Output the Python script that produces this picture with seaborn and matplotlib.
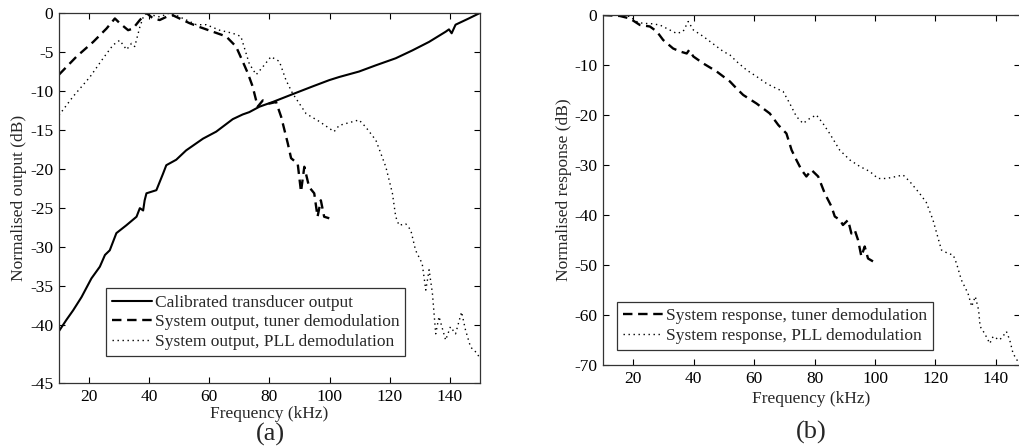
import numpy as np
import pandas as pd
import matplotlib
matplotlib.use("Agg")
import matplotlib.pyplot as plt
import seaborn as sns

# ---- panel (a) data ----
calib_khz = [10.1, 12.5, 14.7, 17.5, 20.8, 23.6, 25.3, 26.9, 29.1, 32.4, 35.8, 36.9, 38.0, 38.5,
             39.1, 42.4, 44.6, 45.7, 49.0, 52.3, 57.9, 62.3, 67.8, 71.1, 73.3, 76.7, 81.1, 87.7,
             94.4, 99.9, 103.2, 109.8, 115.4, 122.0, 127.5, 133.1, 138.6, 139.7, 140.6, 141.9,
             146.3, 150.0]
calib_db = [-40.7, -39.3, -38.1, -36.4, -34.0, -32.5, -31.0, -30.4, -28.2, -27.2, -26.1, -25.0,
            -25.3, -24.0, -23.1, -22.7, -20.6, -19.5, -18.8, -17.6, -16.1, -15.2, -13.6, -13.0,
            -12.7, -12.0, -11.4, -10.4, -9.4, -8.6, -8.2, -7.5, -6.7, -5.8, -4.8, -3.7, -2.4,
            -2.1, -2.6, -1.5, -0.7, 0.0]

tuner_a_khz = [10.0, 15.8, 21.4, 25.8, 28.6, 30.2, 33.0, 34.6, 36.9, 39.1, 41.3, 43.5, 45.7, 47.9,
               50.1, 53.4, 56.8, 61.2, 65.6, 68.9, 71.1, 72.8, 74.4, 76.1, 77.8, 80.0, 82.2, 83.9,
               86.1, 87.2, 89.4, 90.5, 91.6, 93.2, 94.9, 96.0, 97.1, 98.2, 99.9]
tuner_a_db = [-7.9, -5.6, -3.7, -2.0, -0.7, -1.3, -2.2, -2.0, -0.9, 0.0, -0.7, -0.9, -0.5, -0.3,
              -0.7, -1.3, -1.8, -2.4, -3.0, -4.3, -6.2, -7.7, -9.4, -12.0, -11.2, -11.6, -11.4,
              -13.3, -16.7, -18.6, -19.3, -22.9, -19.7, -22.3, -23.1, -26.1, -24.0, -26.1, -26.3]

pll_a_khz = [10.0, 14.7, 20.3, 24.7, 28.0, 30.2, 32.5, 34.1, 35.2, 36.9, 38.5, 41.3, 43.5, 46.8,
             49.0, 52.4, 55.7, 59.0, 63.4, 67.8, 70.5, 73.3, 75.6, 77.8, 80.5, 83.3, 85.5, 87.7,
             92.2, 96.6, 101.5, 103.2, 109.8, 112.0, 115.4, 118.7, 120.9, 122.0, 123.1, 125.3,
             127.0, 128.6, 130.8, 132.0, 133.1, 134.2, 135.3, 136.4, 138.6, 140.2, 141.9, 143.9,
             145.2, 146.9, 149.1, 150.0]
pll_a_db = [-13.1, -10.7, -8.2, -5.8, -4.1, -3.5, -4.7, -3.9, -4.3, -1.8, 0.0, -0.3, -0.5, 0.0,
            -0.3, -0.9, -1.5, -1.5, -2.2, -2.6, -3.0, -6.5, -7.9, -6.9, -5.6, -6.2, -8.6, -10.3,
            -12.9, -13.9, -15.2, -14.4, -13.7, -14.6, -16.3, -19.7, -23.1, -26.1, -27.2, -27.0,
            -27.8, -30.4, -32.1, -35.5, -32.9, -35.9, -41.1, -38.9, -41.9, -40.2, -41.1, -38.3,
            -40.6, -42.8, -43.6, -44.3]

# ---- panel (b) data ----
tuner_b_khz = [10.0, 15.6, 18.9, 22.2, 25.5, 27.8, 29.9, 33.2, 35.5, 37.7, 38.5, 39.9, 43.2, 47.6,
               52.0, 54.2, 56.4, 60.8, 65.2, 68.0, 70.7, 72.4, 74.0, 75.7, 77.3, 79.0, 81.2, 83.4,
               85.6, 86.7, 88.4, 89.4, 91.1, 92.2, 93.3, 94.4, 95.5, 96.6, 97.7, 99.4, 100.0]
tuner_b_db = [0.0, -0.2, -0.7, -2.0, -2.3, -3.3, -5.0, -6.7, -7.3, -7.7, -7.0, -8.3, -9.7, -11.3,
              -13.3, -14.7, -16.0, -17.7, -19.7, -22.0, -23.7, -27.0, -29.0, -31.0, -32.3, -31.0,
              -32.3, -35.7, -38.3, -40.3, -41.0, -42.0, -41.0, -43.7, -43.0, -45.0, -48.3, -46.3,
              -48.7, -49.3, -49.5]

pll_b_khz = [10.0, 15.6, 18.9, 21.1, 23.3, 25.5, 28.8, 32.1, 34.4, 36.5, 38.2, 39.9, 43.2, 47.6,
             49.8, 52.0, 54.2, 57.5, 60.8, 64.1, 67.4, 69.6, 71.8, 74.0, 76.2, 78.4, 80.6, 82.8,
             85.0, 88.3, 91.7, 95.0, 98.3, 101.0, 103.8, 107.1, 109.3, 111.5, 114.8, 117.0, 119.2,
             122.0, 124.2, 125.9, 127.0, 128.6, 130.8, 132.0, 133.2, 134.3, 134.8, 136.3, 138.0,
             139.1, 141.2, 142.3, 143.5, 144.6, 145.7, 147.3, 148.0]
pll_b_db = [0.0, 0.0, -0.3, -1.3, -1.7, -1.7, -2.0, -3.0, -3.7, -3.3, -1.3, -3.0, -4.3, -6.3,
            -7.3, -8.0, -9.3, -11.0, -12.3, -13.7, -14.7, -15.3, -17.7, -20.3, -21.7, -20.7, -20.0,
            -21.7, -23.7, -27.0, -29.0, -30.3, -31.3, -32.7, -32.7, -32.3, -32.0, -33.3, -35.7,
            -37.5, -41.0, -47.0, -47.7, -48.0, -49.7, -53.0, -55.7, -58.3, -56.3, -59.0, -62.3,
            -63.7, -65.7, -64.3, -65.0, -64.3, -63.3, -65.0, -67.7, -69.3, -69.8]

xticks = [20, 40, 60, 80, 100, 120, 140]
yticks_a = [0, -5, -10, -15, -20, -25, -30, -35, -40]
ytick_labels_a = ['0', '-5', '-10', '-15', '-20', '-25', '-30', '-35', '-40', '-45']
yticks_b = [0, -10, -20, -30, -40, -50, -60, -70]

sns.set_theme(style="ticks")
plt.rcParams['font.family'] = ['Liberation Serif', 'DejaVu Serif']
plt.rcParams['axes.unicode_minus'] = False
FS = 12.5

fig = plt.figure(figsize=(10.2, 4.48), dpi=100)
ax1 = fig.add_axes([0.0578, 0.1451, 0.4127, 0.8259])
ax2 = fig.add_axes([0.5912, 0.1853, 0.4088, 0.78125])

dash = (0, (4, 2.4))
dots = (0, (1, 2.6))

sns.lineplot(x=calib_khz, y=calib_db, ax=ax1, color='black', lw=1.5, estimator=None, sort=False,
             label='Calibrated transducer output')
sns.lineplot(x=tuner_a_khz, y=tuner_a_db, ax=ax1, color='black', lw=1.7, linestyle=dash,
             estimator=None, sort=False, label='System output, tuner demodulation')
sns.lineplot(x=pll_a_khz, y=pll_a_db, ax=ax1, color='black', lw=1.0, linestyle=dots,
             estimator=None, sort=False, label='System output, PLL demodulation')

sns.lineplot(x=tuner_b_khz, y=tuner_b_db, ax=ax2, color='black', lw=1.7, linestyle=dash,
             estimator=None, sort=False, label='System response, tuner demodulation')
sns.lineplot(x=pll_b_khz, y=pll_b_db, ax=ax2, color='black', lw=1.0, linestyle=dots,
             estimator=None, sort=False, label='System response, PLL demodulation')

# the bottom label of (a) sits at the axis floor, as in the original figure
ybot_a = -47.4
ax1.set_xlim(10, 150)
ax1.set_ylim(ybot_a, 0)
ax1.set_yticks(yticks_a + [ybot_a])
ax1.set_yticklabels(ytick_labels_a)
ax1.set_ylabel('Normalised output (dB)', fontsize=FS, labelpad=2)

ax2.set_xlim(10, 148)
ax2.set_ylim(-70, 0)
ax2.set_yticks(yticks_b)
ax2.set_ylabel('Normalised response (dB)', fontsize=FS, labelpad=2)

ax1.set_xlabel('Frequency (kHz)', fontsize=FS, labelpad=1)
ax2.set_xlabel('Frequency (kHz)', fontsize=FS, labelpad=3)

for ax in (ax1, ax2):
    ax.set_xticks(xticks)
    ax.tick_params(direction='in', length=4, width=0.8, top=True, right=True,
                   labelsize=FS, colors='black', pad=4)
    for s in ax.spines.values():
        s.set_visible(True)
        s.set_linewidth(0.9)
        s.set_color('#333333')

leg1 = ax1.legend(loc='lower left', bbox_to_anchor=(0.112, 0.073), borderaxespad=0,
                  fontsize=FS, frameon=True, fancybox=False, edgecolor='black',
                  handlelength=2.3, handletextpad=0.15, labelspacing=0.2,
                  borderpad=0.35)
leg1.get_frame().set_linewidth(0.9)
leg2 = ax2.legend(loc='lower left', bbox_to_anchor=(0.034, 0.043), borderaxespad=0,
                  fontsize=FS, frameon=True, fancybox=False, edgecolor='black',
                  handlelength=2.3, handletextpad=0.15, labelspacing=0.2,
                  borderpad=0.35)
leg2.get_frame().set_linewidth(0.9)

fig.text(270 / 1020, 1 - 434 / 448, '(a)', ha='center', va='center', fontsize=19)
fig.text(811 / 1020, 1 - 432 / 448, '(b)', ha='center', va='center', fontsize=19)

fig.savefig('out.png', dpi=100, facecolor='white')
